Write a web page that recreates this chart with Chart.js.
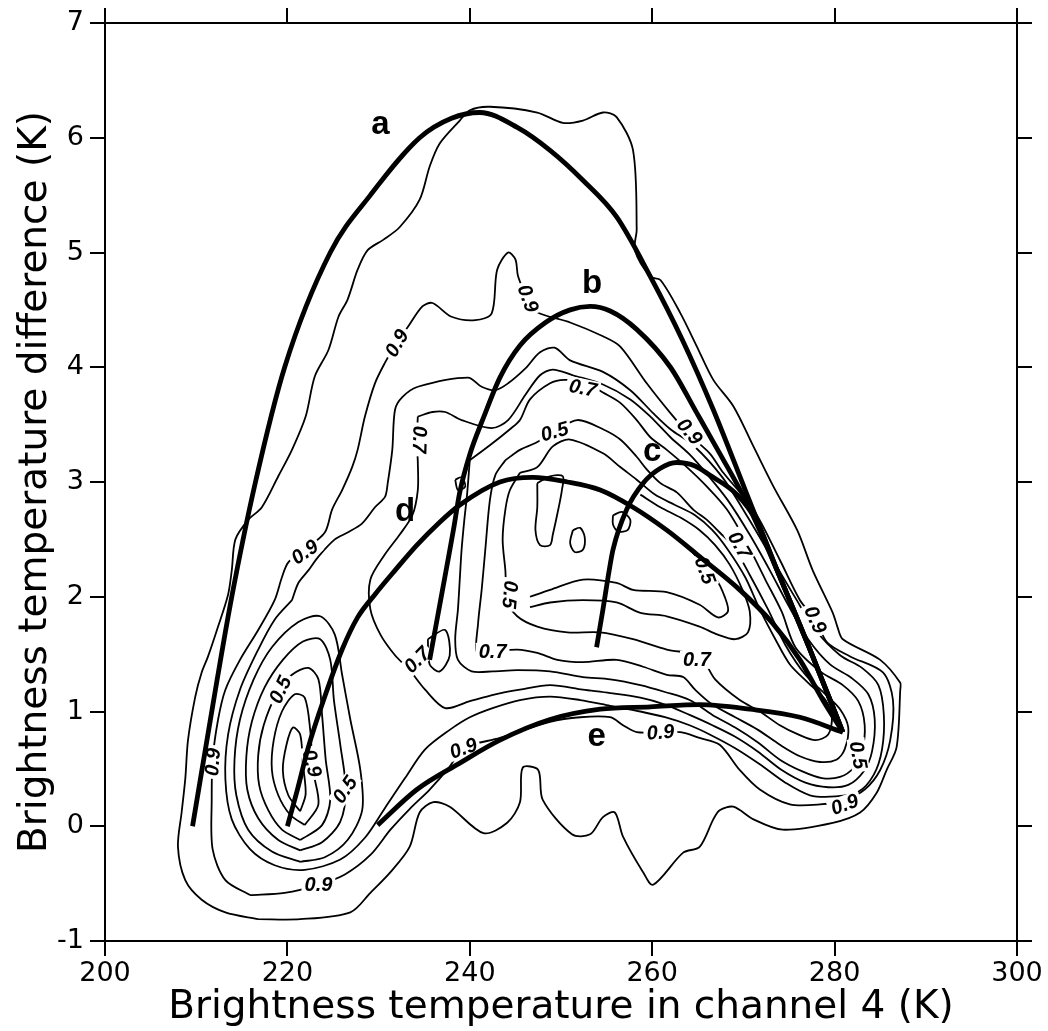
<!DOCTYPE html>
<html>
<head>
<meta charset="utf-8">
<title>Brightness temperature difference vs channel 4</title>
<script src="https://cdn.jsdelivr.net/npm/chart.js@4.4.1/dist/chart.umd.min.js"></script>
<style>
  html, body { margin: 0; padding: 0; background: #fff; }
  #wrap { width: 1048px; height: 1031px; }
</style>
</head>
<body>
<div id="wrap"><canvas id="chart" width="1048" height="1031"></canvas></div>
<script>
/* ── Axis ranges and ticks ── */
const xTicks = [200, 220, 240, 260, 280, 300];
const yTicks = [-1, 0, 1, 2, 3, 4, 5, 6, 7];

/* ── Model curves a–e: [T4 (K), T4 - T5 (K)] ── */
const curveA = [[209.6,0.0],[212.3,1.28],[213.9,2.0],[216.5,3.0],[219.7,4.0],[224.7,5.0],[229.1,5.5],[234.5,6.0],[238.0,6.17],[241.1,6.22],[245.2,6.09],[248.8,5.89],[252.4,5.63],[256.1,5.31],[259.8,4.79],[263.3,4.24],[266.7,3.63],[270.2,2.93],[273.7,2.23],[277.3,1.54],[280.9,0.82]];
const curveB = [[235.6,1.45],[236.5,1.84],[237.4,2.23],[238.2,2.58],[238.9,2.91],[240.0,3.24],[241.5,3.56],[243.3,3.91],[245.5,4.19],[248.3,4.39],[251.0,4.50],[253.2,4.53],[255.4,4.49],[258.3,4.33],[262.0,4.00],[264.9,3.60],[267.4,3.25],[270.5,2.80],[273.7,2.23],[277.3,1.54],[280.9,0.82]];
const curveC = [[253.9,1.56],[254.6,1.89],[255.2,2.19],[255.7,2.41],[257.2,2.76],[259.0,2.99],[260.9,3.12],[262.7,3.17],[264.7,3.14],[266.3,3.06],[269.3,2.89],[271.5,2.65],[273.7,2.23],[277.3,1.54],[280.9,0.82]];
const curveD = [[220.0,0.0],[221.1,0.32],[222.3,0.69],[224.1,1.13],[226.0,1.54],[227.7,1.82],[229.6,2.02],[231.8,2.23],[234.2,2.45],[236.7,2.65],[238.9,2.80],[243.3,3.00],[246.9,3.04],[250.7,3.00],[254.3,2.93],[257.9,2.78],[261.6,2.58],[265.2,2.35],[269.6,2.06],[273.2,1.77],[276.2,1.45],[278.7,1.10],[280.9,0.82]];
const curveE = [[229.9,0.01],[234.2,0.32],[238.9,0.55],[243.3,0.75],[248.8,0.93],[254.3,1.02],[259.8,1.04],[265.2,1.06],[270.7,1.02],[276.2,0.95],[280.9,0.82]];

const curveLetters = [['a',230.2,6.11],['b',253.4,4.73],['c',260.0,3.26],['d',232.9,2.74],['e',253.9,0.78]];

/* ── Frequency contours ── */
const outerLine = [[216.8,-0.81],[213.2,-0.75],[210.6,-0.64],[208.8,-0.47],[208.0,-0.18],[208.4,0.12],[208.8,0.41],[209.1,0.75],[209.9,1.13],[210.6,1.34],[211.3,1.48],[212.4,1.74],[213.5,2.02],[213.9,2.23],[214.3,2.50],[215.7,2.67],[217.2,2.78],[219.0,3.05],[220.5,3.28],[222.0,3.57],[223.0,3.92],[224.5,4.15],[225.6,4.44],[226.6,4.59],[227.7,4.85],[228.8,5.02],[230.5,5.11],[232.3,5.22],[234.5,5.46],[235.6,5.75],[236.7,5.95],[238.9,6.15],[240.0,6.24],[242.2,6.27],[247.4,6.22],[250.2,6.13],[252.4,6.15],[254.6,6.22],[256.1,6.18],[257.9,5.89],[258.3,5.20],[258.1,5.02],[259.8,4.79],[260.9,4.76],[263.1,4.47],[264.9,4.18],[266.7,3.89],[268.9,3.66],[271.1,3.31],[273.3,2.96],[275.9,2.58],[277.6,2.23],[279.8,1.86],[280.3,1.74],[280.9,1.63],[285.0,1.45],[287.2,1.25],[287.2,1.19],[286.8,0.69],[285.7,0.49],[284.6,0.29],[282.8,0.12],[279.8,0.03],[274.3,-0.03],[271.1,0.06],[268.9,0.17],[267.4,0.14],[266.7,0.06],[265.2,-0.18],[263.4,-0.23],[260.1,-0.51],[259.0,-0.40],[256.8,-0.09],[255.9,0.12],[254.6,0.08],[253.2,-0.07],[251.2,-0.07],[248.0,0.23],[247.5,0.49],[245.8,0.51],[245.5,0.21],[244.1,0.03],[241.5,-0.06],[237.8,0.17],[236.0,0.21],[234.5,0.12],[233.4,-0.18],[231.3,-0.40],[229.1,-0.58],[226.9,-0.75],[221.4,-0.81],[216.8,-0.81]];
const level09 = [[215.9,-0.60],[213.2,-0.47],[211.8,-0.20],[211.7,0.23],[211.8,0.58],[212.4,0.93],[213.2,1.19],[214.8,1.45],[216.8,1.71],[218.6,1.97],[219.4,2.17],[220.1,2.30],[221.9,2.41],[224.1,2.56],[224.9,2.76],[226.0,2.93],[227.1,3.13],[227.7,3.28],[228.5,3.57],[229.6,3.86],[230.7,4.04],[231.8,4.19],[233.2,4.35],[234.8,4.53],[235.9,4.56],[238.0,4.44],[240.6,4.41],[242.4,4.47],[243.0,4.85],[244.2,5.00],[245.0,4.94],[245.3,4.79],[246.4,4.59],[247.4,4.48],[251.0,4.39],[254.6,4.27],[256.5,4.18],[259.4,3.86],[262.0,3.60],[264.1,3.41],[266.3,3.25],[267.8,3.08],[271.1,2.76],[274.0,2.32],[276.2,1.97],[277.9,1.80],[279.2,1.60],[281.7,1.48],[285.3,1.34],[286.4,1.10],[286.1,0.75],[285.0,0.49],[283.3,0.32],[281.1,0.23],[278.4,0.19],[275.1,0.19],[271.8,0.32],[269.6,0.49],[267.4,0.71],[265.2,0.77],[263.1,0.82],[260.9,0.82],[258.3,0.82],[256.8,0.88],[255.4,0.95],[252.1,0.95],[248.8,0.91],[243.3,0.77],[239.3,0.68],[237.8,0.52],[235.6,0.32],[233.4,0.15],[231.3,-0.03],[229.1,-0.25],[226.3,-0.42],[223.4,-0.51],[219.7,-0.58],[215.9,-0.60]];
const band1 = [[220.5,1.97],[221.2,2.12],[222.3,2.23],[223.4,2.35],[225.2,2.50],[226.6,2.56],[228.2,2.64],[229.6,2.78],[230.7,2.87],[231.0,2.99],[231.5,3.28],[231.8,3.63],[232.6,3.74],[234.3,3.83],[239.8,3.91],[241.3,3.83],[242.8,3.80],[244.2,3.86],[246.1,3.99],[247.7,4.13],[249.3,4.17],[251.0,4.06],[254.6,3.96],[257.6,3.80],[260.1,3.60],[262.0,3.46],[264.5,3.32],[267.7,3.04],[270.5,2.69],[273.1,2.34],[275.7,1.99],[277.9,1.71],[280.6,1.49],[283.0,1.38],[284.8,1.23],[285.4,0.97],[285.2,0.67],[284.3,0.45],[282.6,0.30],[280.1,0.26],[277.3,0.27],[274.6,0.38],[271.8,0.54],[269.1,0.68],[266.3,0.80],[264.1,0.88],[261.4,0.95],[258.7,1.00],[255.4,1.05],[252.1,1.10],[248.8,1.13],[245.5,1.10],[242.5,1.03],[240.0,0.95],[237.8,0.84],[235.1,0.67],[232.9,0.42],[230.7,0.16],[228.5,-0.10],[225.8,-0.29],[221.9,-0.38],[218.6,-0.34],[215.9,-0.20],[213.9,0.06],[213.2,0.41],[213.5,0.80],[214.8,1.19],[216.8,1.54],[218.6,1.80],[220.5,1.97]];
const band2 = [[234.3,3.57],[235.9,3.61],[237.3,3.61],[239.1,3.54],[242.4,3.47],[244.2,3.54],[246.1,3.76],[247.7,3.93],[249.1,3.98],[251.3,3.93],[254.6,3.85],[257.6,3.72],[259.8,3.57],[262.0,3.39],[264.1,3.24],[266.1,3.06],[268.3,2.84],[270.7,2.54],[272.9,2.23],[274.9,1.93],[277.1,1.63],[279.5,1.41],[281.9,1.29],[283.7,1.15],[284.4,0.93],[284.1,0.65],[283.2,0.48],[281.5,0.36],[279.3,0.34],[276.8,0.38],[274.2,0.49],[271.6,0.65],[269.1,0.78],[266.6,0.88],[264.1,0.97],[261.4,1.06],[258.7,1.12],[255.4,1.16],[252.4,1.19],[248.8,1.23],[245.5,1.19],[242.8,1.15],[240.0,1.09],[237.3,1.03],[235.1,1.19],[233.4,1.36],[231.8,1.49],[230.2,1.67],[229.1,1.89],[229.1,2.15],[230.7,2.37],[232.3,2.54],[233.7,2.71],[234.3,2.93],[234.3,3.17],[234.2,3.37],[234.3,3.57]];
const band3 = [[240.0,3.19],[242.2,3.32],[244.4,3.46],[245.5,3.54],[246.6,3.72],[248.8,3.86],[250.4,3.89],[252.6,3.87],[254.6,3.78],[256.5,3.69],[258.3,3.54],[259.8,3.39],[261.6,3.28],[263.8,3.13],[266.0,2.96],[268.2,2.76],[270.5,2.45],[272.4,2.15],[274.2,1.87],[275.7,1.56],[278.4,1.35],[280.9,1.23],[282.6,1.09],[283.3,0.88],[283.0,0.65],[282.1,0.51],[280.6,0.43],[278.6,0.42],[276.4,0.48],[274.0,0.58],[271.6,0.73],[269.1,0.86],[266.6,0.97],[264.1,1.10],[261.4,1.17],[258.7,1.23],[255.4,1.28],[252.4,1.30],[248.8,1.35],[245.2,1.36],[242.5,1.35],[240.2,1.35],[238.7,1.45],[238.4,1.63],[238.7,1.89],[238.9,2.15],[239.1,2.41],[239.4,2.67],[239.7,2.89],[240.0,3.19]];
const band4 = [[243.9,3.19],[245.5,3.28],[247.2,3.34],[249.3,3.44],[251.8,3.54],[254.6,3.46],[256.5,3.37],[258.3,3.22],[259.4,3.11],[260.9,2.99],[262.7,2.91],[264.5,2.76],[266.0,2.67],[267.4,2.56],[268.9,2.44],[270.7,2.19],[272.7,1.89],[274.6,1.58],[276.8,1.32],[279.0,1.15],[280.6,1.02],[281.5,0.86],[281.1,0.67],[280.2,0.58],[278.4,0.56],[276.2,0.61],[274.0,0.71],[271.6,0.84],[269.1,0.95],[266.6,1.06],[264.7,1.19],[263.4,1.30],[261.6,1.32],[259.0,1.39],[256.1,1.45],[252.4,1.43],[249.6,1.45],[247.4,1.51],[245.2,1.54],[242.5,1.52],[240.8,1.51],[240.9,1.76],[241.3,2.06],[241.7,2.41],[242.2,2.84],[242.8,3.06],[243.9,3.19]];
const band5 = [[245.5,3.08],[247.4,3.13],[249.1,3.31],[251.0,3.37],[254.6,3.25],[256.5,3.13],[258.3,3.02],[260.3,2.89],[262.5,2.80],[264.7,2.71],[266.6,2.58],[268.3,2.41],[270.2,2.17],[271.8,1.89],[273.5,1.63],[275.1,1.41],[277.1,1.25],[279.0,1.10],[279.7,0.95],[279.3,0.80],[277.9,0.75],[276.0,0.80],[274.0,0.88],[271.8,1.00],[269.6,1.10],[266.9,1.28],[265.2,1.48],[261.6,1.54],[257.9,1.63],[254.3,1.69],[250.7,1.69],[247.4,1.74],[245.2,1.83],[244.1,1.97],[243.9,2.23],[243.6,2.50],[243.9,2.76],[244.4,2.93],[245.5,3.08]];
const band6 = [[258.7,2.89],[260.9,2.78],[263.1,2.69],[265.2,2.58],[266.9,2.45],[268.5,2.28],[269.9,2.06],[270.7,1.87],[270.5,1.69],[269.1,1.63],[267.2,1.67],[265.2,1.74],[261.6,1.83],[258.7,1.86],[256.1,1.95],[252.4,1.97],[248.8,1.95],[246.6,1.91]];
const band7 = [[263.1,2.50],[265.2,2.32],[266.9,2.17],[268.0,1.99],[268.3,1.87],[267.2,1.82],[265.2,1.93],[261.6,2.04],[257.9,2.06],[256.1,2.12],[252.4,2.15],[248.8,2.06],[246.6,2.00]];

// cold lobe near 220 K
const lobe2 = [[221.4,-0.31],[218.3,-0.22],[215.7,-0.03],[214.4,0.27],[214.2,0.58],[214.8,0.93],[216.3,1.28],[218.3,1.56],[221.2,1.78],[223.6,1.83],[225.2,1.67],[226.0,1.32],[226.9,0.93],[228.0,0.49],[228.2,0.14],[226.6,-0.12],[224.1,-0.27],[221.4,-0.31]];
const lobe3 = [[221.4,-0.21],[219.0,-0.12],[216.8,0.07],[215.6,0.32],[215.5,0.61],[216.1,0.91],[217.5,1.21],[219.5,1.45],[221.7,1.61],[223.6,1.63],[224.7,1.45],[225.1,1.10],[225.8,0.71],[226.4,0.32],[225.8,0.04],[223.8,-0.14],[221.4,-0.21]];
const lobe4 = [[221.4,-0.12],[219.4,-0.03],[217.9,0.14],[216.9,0.36],[216.8,0.62],[217.4,0.88],[218.8,1.15],[220.5,1.32],[222.3,1.38],[223.4,1.28],[223.8,0.97],[224.2,0.58],[224.7,0.23],[223.8,0.01],[221.4,-0.12]];
const lobe5 = [[221.9,0.01],[220.3,0.10],[219.0,0.27],[218.3,0.49],[218.5,0.75],[219.4,1.00],[220.8,1.15],[221.9,1.12],[222.5,0.84],[222.8,0.49],[223.4,0.19],[221.9,0.01]];
const lobe6 = [[221.4,0.13],[220.1,0.27],[219.5,0.49],[219.9,0.71],[220.6,0.86],[221.4,0.80],[221.7,0.54],[222.0,0.28],[221.4,0.13]];

// small closed cells in the centre
const island1 = [[247.4,2.99],[248.8,3.05],[250.2,3.05],[250.1,2.93],[249.7,2.76],[249.1,2.54],[248.8,2.45],[247.7,2.45],[247.2,2.58],[247.4,2.78],[247.4,2.99]];
const island2 = [[251.3,2.58],[252.1,2.60],[252.6,2.52],[252.4,2.41],[251.5,2.39],[251.0,2.47],[251.3,2.58]];
const island3 = [[255.7,2.71],[256.7,2.74],[257.6,2.67],[257.3,2.58],[256.3,2.57],[255.7,2.63],[255.7,2.71]];
const island4 = [[238.4,3.02],[239.1,3.04],[239.5,2.96],[238.7,2.93],[238.4,3.02]];
const island5 = [[235.4,1.63],[237.3,1.71],[237.8,1.49],[236.7,1.35],[235.6,1.41],[235.4,1.63]];

// contour labels: [text, x, y, angle in degrees]
const contourLabels = [
  ['0.9',221.9,2.39,-35],['0.9',232.0,4.21,-60],['0.9',246.4,4.60,70],['0.9',264.1,3.44,50],
  ['0.9',277.9,1.80,65],['0.9',211.8,0.56,-85],['0.9',223.4,-0.51,0],['0.9',239.3,0.68,-20],
  ['0.9',260.9,0.82,-5],['0.9',281.1,0.19,-20],['0.9',222.7,0.55,75],
  ['0.7',252.4,3.82,12],['0.5',249.3,3.44,-15],['0.7',234.5,3.37,92],['0.5',244.4,2.02,95],
  ['0.7',242.5,1.52,0],['0.7',264.9,1.45,0],['0.7',234.2,1.45,-45],['0.7',269.6,2.45,60],
  ['0.5',265.8,2.23,70],['0.5',219.2,1.19,-65],['0.5',226.3,0.32,-55],['0.5',282.6,0.62,80]
];

const xTitle = 'Brightness temperature in channel 4 (K)';
const yTitle = 'Brightness temperature difference (K)';

/* ── Dataset builders ── */
function toPoints(arr) {
    return arr.map(function (p) { return { x: p[0], y: p[1] }; });
}

// model curves run left to right, so monotone splines keep them smooth
function thickPath(arr) {
    return {
        data: toPoints(arr),
        showLine: true,
        borderColor: '#000',
        borderWidth: 4.8,
        pointRadius: 0,
        cubicInterpolationMode: 'monotone',
        fill: false,
    };
}

function contourPath(arr) {
    return {
        data: toPoints(arr),
        showLine: true,
        borderColor: '#000',
        borderWidth: 1.8,
        pointRadius: 0,
        tension: 0.3,
        fill: false,
    };
}

const curves = [curveA, curveB, curveC, curveD, curveE];
const contours = [outerLine, level09, band1, band2, band3, band4, band5, band6, band7,
                  lobe2, lobe3, lobe4, lobe5, lobe6,
                  island1, island2, island3, island4, island5];

// datasets with the lowest index are painted last, so the thick curves go first
const datasets = curves.map(thickPath).concat(contours.map(contourPath));

/* ── Labels on contours and curves ── */
const labelPlugin = {
    id: 'labelPlugin',
    afterDatasetDraw(chart, args) {
        if (args.index !== curves.length) return;
        const c = chart.ctx;
        const xs = chart.scales.x, ys = chart.scales.y;
        c.save();
        c.font = 'italic bold 20px "Liberation Sans", Arial, sans-serif';
        c.textAlign = 'center';
        c.textBaseline = 'middle';
        contourLabels.forEach(function (l) {
            const px = xs.getPixelForValue(l[1]);
            const py = ys.getPixelForValue(l[2]);
            c.save();
            c.translate(px, py);
            c.rotate(l[3] * Math.PI / 180);
            const w = c.measureText(l[0]).width + 6;
            c.fillStyle = '#fff';
            c.fillRect(-w / 2, -9, w, 18);
            c.fillStyle = '#000';
            c.fillText(l[0], 0, 1);
            c.restore();
        });
        c.restore();
    },
    afterDatasetsDraw(chart) {
        const c = chart.ctx;
        const xs = chart.scales.x, ys = chart.scales.y;
        c.save();
        c.font = 'bold 33px "Liberation Sans", Arial, sans-serif';
        c.fillStyle = '#000';
        c.textAlign = 'center';
        c.textBaseline = 'middle';
        curveLetters.forEach(function (l) {
            c.fillText(l[0], xs.getPixelForValue(l[1]), ys.getPixelForValue(l[2]));
        });
        c.restore();
    }
};

/* ── Axes ── */
const axisFont = { family: "'DejaVu Sans', sans-serif", size: 27 };
const titleFont = { family: "'DejaVu Sans', sans-serif", size: 39 };

function frameGrid() {
    return { drawOnChartArea: false, drawTicks: true, tickLength: 15, color: '#000', lineWidth: 2 };
}
function frameBorder() {
    return { display: true, color: '#000', width: 2 };
}

new Chart(document.getElementById('chart').getContext('2d'), {
    type: 'scatter',
    data: { datasets: datasets },
    options: {
        responsive: false,
        animation: false,
        devicePixelRatio: 1,
        layout: { padding: 0 },
        plugins: { legend: { display: false }, tooltip: { enabled: false } },
        scales: {
            x: {
                type: 'linear', position: 'bottom', min: xTicks[0], max: xTicks[xTicks.length - 1],
                afterBuildTicks: function (s) { s.ticks = xTicks.map(function (v) { return { value: v }; }); },
                ticks: { color: '#000', font: axisFont, padding: 2, maxRotation: 0 },
                grid: frameGrid(), border: frameBorder(),
                title: { display: true, text: xTitle, color: '#000', font: titleFont, padding: { top: 0, bottom: 0 } },
                afterFit: function (s) { s.height = 90; }
            },
            x2: {
                type: 'linear', position: 'top', min: xTicks[0], max: xTicks[xTicks.length - 1],
                afterBuildTicks: function (s) { s.ticks = xTicks.map(function (v) { return { value: v }; }); },
                ticks: { display: false },
                grid: frameGrid(), border: frameBorder(),
                afterFit: function (s) { s.height = 23; }
            },
            y: {
                type: 'linear', position: 'left', min: yTicks[0], max: yTicks[yTicks.length - 1],
                afterBuildTicks: function (s) { s.ticks = yTicks.map(function (v) { return { value: v }; }); },
                ticks: { color: '#000', font: axisFont, padding: 6 },
                grid: frameGrid(), border: frameBorder(),
                title: { display: true, text: yTitle, color: '#000', font: titleFont, padding: { top: 12, bottom: 0 } },
                afterFit: function (s) { s.width = 105; }
            },
            y2: {
                type: 'linear', position: 'right', min: yTicks[0], max: yTicks[yTicks.length - 1],
                afterBuildTicks: function (s) { s.ticks = yTicks.map(function (v) { return { value: v }; }); },
                ticks: { display: false },
                grid: frameGrid(), border: frameBorder(),
                afterFit: function (s) { s.width = 31; }
            }
        }
    },
    plugins: [labelPlugin]
});
</script>
</body>
</html>
